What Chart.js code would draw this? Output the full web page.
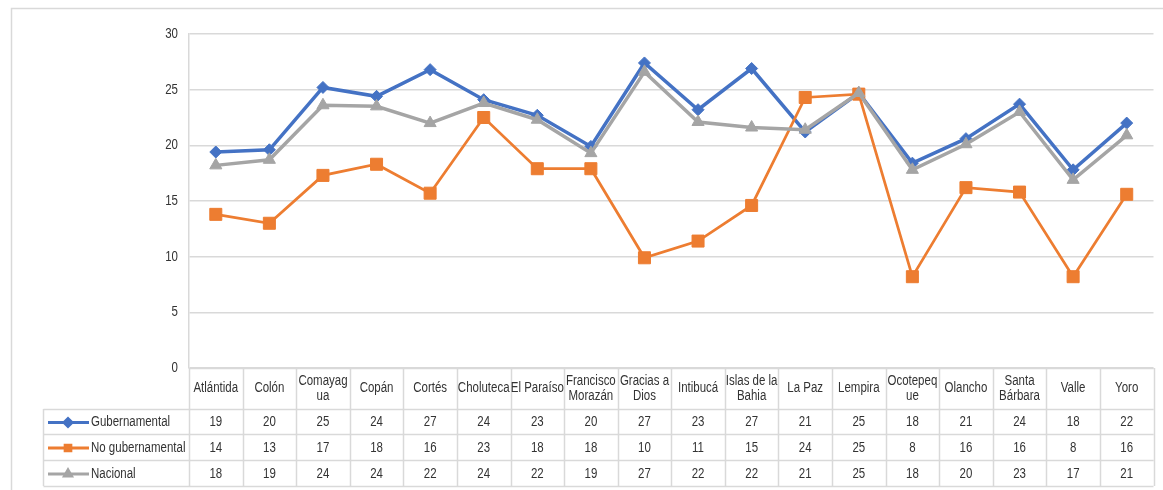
<!DOCTYPE html>
<html>
<head>
<meta charset="utf-8">
<script src="https://cdn.jsdelivr.net/npm/chart.js@4.4.1/dist/chart.umd.min.js"></script>
<style>
  body { margin: 0; background: #fff; }
</style>
</head>
<body>
<canvas id="chart" width="1163" height="490"></canvas>
<script>
// --- DATOS ---
const categories = ['Atlántida', 'Colón', ['Comayag', 'ua'], 'Copán', 'Cortés', 'Choluteca', 'El Paraíso',
  ['Francisco', 'Morazán'], ['Gracias a', 'Dios'], 'Intibucá', ['Islas de la', 'Bahia'], 'La Paz', 'Lempira',
  ['Ocotepeq', 'ue'], 'Olancho', ['Santa', 'Bárbara'], 'Valle', 'Yoro'];

const gubernamental = [19.4, 19.6, 25.2, 24.4, 26.8, 24.1, 22.7, 19.9, 27.4, 23.2, 26.9, 21.2, 24.7, 18.4, 20.6, 23.7, 17.8, 22.0];
const noGubernamental = [13.8, 13.0, 17.3, 18.3, 15.7, 22.5, 17.9, 17.9, 9.9, 11.4, 14.6, 24.3, 24.6, 8.2, 16.2, 15.8, 8.2, 15.6];
const nacional = [18.2, 18.7, 23.6, 23.5, 22.0, 23.8, 22.3, 19.3, 26.6, 22.1, 21.6, 21.4, 24.7, 17.8, 20.1, 23.0, 16.9, 20.9];

const seriesNames = ['Gubernamental', 'No gubernamental', 'Nacional'];
const yTicks = [0, 5, 10, 15, 20, 25, 30];

// --- ESTILO ---
const FONT = '"Liberation Sans", Arial, sans-serif';
const NARROW = 0.82; // imita Arial Narrow
const TEXT = '#333333';
const GRID = '#d9d9d9';
const colors = ['#4472C4', '#ED7D31', '#A5A5A5'];
const styles = ['rectRot', 'rect', 'triangle'];
const radii = [6, 8.5, 7];

function narrowText(ctx, text, x, y, align) {
  ctx.save();
  ctx.translate(x, y);
  ctx.scale(NARROW, 1);
  ctx.textAlign = align;
  ctx.fillText(text, 0, 0);
  ctx.restore();
}

// Marco exterior
const framePlugin = {
  id: 'frame',
  beforeDraw(chart) {
    const ctx = chart.ctx;
    ctx.save();
    ctx.strokeStyle = GRID;
    ctx.lineWidth = 1.5;
    ctx.strokeRect(11.5, 8.5, 1300, 600);
    ctx.restore();
  }
};

// Tabla de datos debajo del gráfico (como Excel)
const tablePlugin = {
  id: 'dataTable',
  afterDraw(chart) {
    const ctx = chart.ctx;
    const area = chart.chartArea;
    const xs = chart.scales.x;
    const ys = chart.scales.y;
    const n = categories.length;
    const colW = (area.right - area.left) / n;
    const headTop = area.bottom;
    const headBottom = 409;
    const rows = [409, 434, 460, 486];
    const legendLeft = 43.5;

    ctx.save();
    ctx.strokeStyle = GRID;
    ctx.lineWidth = 1.5;

    // lineas horizontales
    ctx.beginPath();
    ctx.moveTo(area.left, headTop + 0.5); ctx.lineTo(area.right, headTop + 0.5);
    rows.forEach(y => { ctx.moveTo(legendLeft, y + 0.5); ctx.lineTo(area.right, y + 0.5); });
    // lineas verticales
    for (let i = 0; i <= n; i++) {
      const x = Math.round(area.left + i * colW) + 0.5;
      ctx.moveTo(x, headTop); ctx.lineTo(x, rows[3]);
    }
    ctx.moveTo(legendLeft, rows[0]); ctx.lineTo(legendLeft, rows[3]);
    ctx.stroke();

    ctx.fillStyle = TEXT;
    ctx.textBaseline = 'middle';

    // eje Y
    ctx.font = '14px ' + FONT;
    yTicks.forEach(v => narrowText(ctx, String(v), area.left - 11, ys.getPixelForValue(v), 'right'));

    // encabezados
    const midHead = (headTop + headBottom) / 2;
    categories.forEach((c, i) => {
      const x = xs.getPixelForValue(i);
      const lines = Array.isArray(c) ? c : [c];
      lines.forEach((t, k) => {
        narrowText(ctx, t, x, midHead + (k - (lines.length - 1) / 2) * 14.5, 'center');
      });
    });

    // valores
    const values = [gubernamental, noGubernamental, nacional];
    values.forEach((arr, r) => {
      const yMid = (rows[r] + rows[r + 1]) / 2 + 1;
      arr.forEach((v, i) => narrowText(ctx, String(Math.round(v)), xs.getPixelForValue(i), yMid, 'center'));

      // leyenda
      ctx.save();
      ctx.strokeStyle = colors[r];
      ctx.lineWidth = 3;
      ctx.beginPath();
      ctx.moveTo(48, yMid); ctx.lineTo(89, yMid);
      ctx.stroke();
      ctx.fillStyle = colors[r];
      Chart.helpers.drawPoint(ctx, { pointStyle: styles[r], radius: 4, rotation: 0, borderWidth: 1 }, 68, yMid);
      ctx.fill();
      ctx.restore();
      narrowText(ctx, seriesNames[r], 91, yMid, 'left');
    });
    ctx.restore();
  }
};

const datasets = [gubernamental, noGubernamental, nacional].map((arr, i) => ({
  label: seriesNames[i],
  data: arr,
  borderColor: colors[i],
  backgroundColor: colors[i],
  pointBackgroundColor: colors[i],
  pointBorderColor: colors[i],
  pointStyle: styles[i],
  pointRadius: radii[i],
  pointBorderWidth: 1,
  borderWidth: i === 1 ? 2.75 : 3.5,
  tension: 0,
  order: 2 - i
}));

new Chart(document.getElementById('chart'), {
  type: 'line',
  data: { labels: categories, datasets },
  options: {
    responsive: false,
    animation: false,
    layout: { padding: { left: 0, top: 34, right: 6, bottom: 122 } },
    plugins: { legend: { display: false }, tooltip: { enabled: false } },
    scales: {
      x: { type: 'category', offset: true, display: false },
      y: {
        min: 0, max: 30,
        afterBuildTicks(scale) { scale.ticks = yTicks.map(v => ({ value: v })); },
        afterFit(scale) { scale.width = 189; },
        ticks: { display: false },
        grid: { color: GRID, lineWidth: 1.5, drawTicks: false },
        border: { display: true, color: GRID, width: 1.5 }
      }
    }
  },
  plugins: [framePlugin, tablePlugin]
});
</script>
</body>
</html>
